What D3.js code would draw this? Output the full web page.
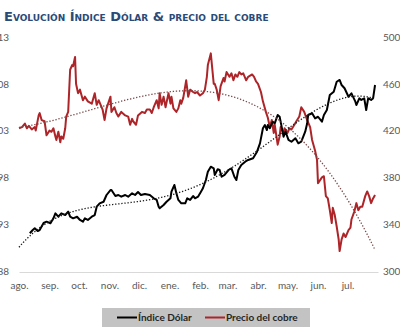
<!DOCTYPE html>
<html>
<head>
<meta charset="utf-8">
<script src="https://cdn.jsdelivr.net/npm/d3@7"></script>
<style>
  html, body { margin: 0; padding: 0; background: #ffffff; }
  svg { display: block; }
</style>
</head>
<body>
<svg id="chart" width="400" height="336"></svg>
<script>
// ---- data ----
const monthLabels = ["ago.", "sep.", "oct.", "nov.", "dic.", "ene.", "feb.", "mar.", "abr.", "may.", "jun.", "jul."];
const monthTickDates = ["2021-08-20", "2021-09-20", "2021-10-20", "2021-11-20", "2021-12-20", "2022-01-20",
                        "2022-02-20", "2022-03-20", "2022-04-20", "2022-05-20", "2022-06-20", "2022-07-20"];
const leftTicks = [88, 93, 98, 103, 108, 113];
const rightTicks = [300, 340, 380, 420, 460, 500];
const seriesNames = ["Índice Dólar", "Precio del cobre"];

// Índice Dólar
const dollarDates = [
  "2021-08-31","2021-09-03","2021-09-05","2021-09-08","2021-09-10","2021-09-14","2021-09-17","2021-09-21",
  "2021-09-24","2021-09-26","2021-09-29","2021-10-02","2021-10-06","2021-10-09","2021-10-11","2021-10-14",
  "2021-10-18","2021-10-21","2021-10-24","2021-10-26","2021-10-29","2021-11-02","2021-11-05","2021-11-07",
  "2021-11-10","2021-11-14","2021-11-17","2021-11-21","2021-11-22","2021-11-26","2021-11-29","2021-12-02",
  "2021-12-06","2021-12-09","2021-12-13","2021-12-16","2021-12-19","2021-12-22","2021-12-26","2021-12-31",
  "2022-01-04","2022-01-07","2022-01-09","2022-01-10","2022-01-14","2022-01-17","2022-01-21","2022-01-22",
  "2022-01-25","2022-01-27","2022-01-29","2022-02-01","2022-02-05","2022-02-07","2022-02-10","2022-02-13",
  "2022-02-15","2022-02-18","2022-02-21","2022-02-23","2022-02-26","2022-02-28","2022-03-03","2022-03-06",
  "2022-03-07","2022-03-10","2022-03-12","2022-03-14","2022-03-17","2022-03-21","2022-03-24","2022-03-27",
  "2022-03-29","2022-03-31","2022-04-03","2022-04-07","2022-04-10","2022-04-15","2022-04-19","2022-04-22",
  "2022-04-25","2022-04-27","2022-04-29","2022-04-30","2022-05-02","2022-05-05","2022-05-07","2022-05-10",
  "2022-05-12","2022-05-14","2022-05-16","2022-05-18","2022-05-21","2022-05-24","2022-05-28","2022-05-31",
  "2022-06-03","2022-06-07","2022-06-09","2022-06-10","2022-06-14","2022-06-17","2022-06-20","2022-06-24",
  "2022-06-26","2022-06-29","2022-07-02","2022-07-06","2022-07-09","2022-07-12","2022-07-14","2022-07-17",
  "2022-07-21","2022-07-24","2022-07-28","2022-07-29","2022-08-01","2022-08-03","2022-08-06","2022-08-08",
  "2022-08-10","2022-08-13","2022-08-15","2022-08-17"
];
const dollarValues = [
  92.03, 92.38, 92.56, 92.27, 92.38, 93.13, 93.27, 93.10,
  93.63, 94.16, 93.80, 94.16, 93.98, 94.34, 93.80, 93.63,
  93.80, 93.45, 93.27, 93.63, 93.45, 93.80, 93.98, 94.87,
  95.23, 95.40, 96.12, 96.65, 96.65, 96.01, 96.12, 95.94,
  96.12, 95.94, 96.30, 96.12, 96.44, 96.12, 96.23, 96.12,
  95.77, 95.59, 94.87, 94.70, 95.05, 95.40, 95.77, 96.47,
  97.19, 96.30, 95.59, 95.23, 95.23, 95.77, 95.59, 96.01,
  95.77, 95.94, 96.47, 96.84, 97.72, 98.61, 99.14, 98.97,
  98.26, 98.87, 98.79, 98.07, 98.26, 98.79, 98.97, 98.07,
  97.72, 98.79, 99.32, 99.68, 99.86, 100.04, 100.75, 101.64,
  103.25, 103.60, 103.06, 103.60, 103.25, 103.95, 103.78, 104.67,
  104.48, 103.42, 102.35, 102.88, 102.00, 101.81, 102.18, 101.64,
  101.81, 102.88, 103.78, 104.67, 104.85, 104.31, 104.48, 103.95,
  104.67, 105.20, 106.80, 107.16, 108.22, 108.41, 107.87, 107.52,
  106.62, 106.98, 106.09, 105.73, 106.45, 106.27, 106.45, 105.20,
  106.45, 106.27, 106.45, 107.87
];

// Precio del cobre
const copperDates = [
  "2021-08-20","2021-08-23","2021-08-26","2021-08-28","2021-08-30","2021-09-02","2021-09-05","2021-09-06",
  "2021-09-09","2021-09-10","2021-09-12","2021-09-15","2021-09-17","2021-09-20","2021-09-22","2021-09-24",
  "2021-09-26","2021-09-27","2021-09-29","2021-10-01","2021-10-02","2021-10-04","2021-10-06","2021-10-07",
  "2021-10-09","2021-10-11","2021-10-13","2021-10-14","2021-10-16","2021-10-17","2021-10-19","2021-10-21",
  "2021-10-24","2021-10-26","2021-10-29","2021-11-02","2021-11-05","2021-11-07","2021-11-09","2021-11-13",
  "2021-11-15","2021-11-17","2021-11-21","2021-11-22","2021-11-25","2021-11-27","2021-11-29","2021-12-02",
  "2021-12-06","2021-12-09","2021-12-11","2021-12-13","2021-12-14","2021-12-17","2021-12-19","2021-12-23",
  "2021-12-26","2021-12-28","2021-12-31","2022-01-02","2022-01-04","2022-01-07","2022-01-09","2022-01-10",
  "2022-01-12","2022-01-14","2022-01-16","2022-01-19","2022-01-21","2022-01-22","2022-01-24","2022-01-27",
  "2022-01-29","2022-01-31","2022-02-01","2022-02-03","2022-02-06","2022-02-08","2022-02-10","2022-02-13",
  "2022-02-15","2022-02-17","2022-02-20","2022-02-23","2022-02-25","2022-02-27","2022-02-28","2022-03-03",
  "2022-03-06","2022-03-07","2022-03-09","2022-03-11","2022-03-13","2022-03-16","2022-03-17","2022-03-19",
  "2022-03-22","2022-03-24","2022-03-26","2022-03-28","2022-03-30","2022-04-01","2022-04-03","2022-04-05",
  "2022-04-08","2022-04-10","2022-04-14","2022-04-16","2022-04-18","2022-04-20","2022-04-23","2022-04-25",
  "2022-04-28","2022-04-30","2022-05-02","2022-05-04","2022-05-06","2022-05-07","2022-05-10","2022-05-12",
  "2022-05-13","2022-05-16","2022-05-17","2022-05-20","2022-05-22","2022-05-24","2022-05-27","2022-05-29",
  "2022-06-01","2022-06-03","2022-06-06","2022-06-09","2022-06-12","2022-06-14","2022-06-17","2022-06-19",
  "2022-06-20","2022-06-24","2022-06-26","2022-06-28","2022-06-30","2022-07-02","2022-07-04","2022-07-05",
  "2022-07-07","2022-07-09","2022-07-11","2022-07-12","2022-07-14","2022-07-16","2022-07-18","2022-07-21",
  "2022-07-23","2022-07-24","2022-07-27","2022-07-29","2022-07-31","2022-08-02","2022-08-04","2022-08-07",
  "2022-08-09","2022-08-11","2022-08-13","2022-08-15","2022-08-17"
];
const copperValues = [
  422, 423, 426, 422, 424, 421, 423, 420,
  433, 435, 429, 428, 416, 420, 419, 422,
  415, 412, 419, 410, 415, 413, 422, 432,
  436, 472, 476, 475, 483, 460, 452, 455,
  446, 449, 445, 443, 452, 442, 446, 438,
  429, 439, 449, 436, 440, 435, 432, 436,
  433, 432, 425, 430, 428, 425, 433, 436,
  435, 438, 438, 435, 440, 446, 439, 452,
  442, 449, 440, 452, 443, 449, 439, 436,
  439, 446, 443, 448, 463, 449, 455, 453,
  452, 453, 450, 452, 455, 466, 476, 486,
  460, 460, 455, 446, 458, 465, 462, 470,
  466, 469, 463, 468, 466, 470, 468, 469,
  463, 466, 468, 466, 462, 460, 453, 445,
  436, 431, 423, 429, 418, 425, 408, 415,
  423, 418, 422, 418, 422, 421, 425, 428,
  432, 440, 436, 429, 423, 412, 403, 395,
  375, 380, 381, 364, 362, 352, 341, 354,
  348, 338, 327, 317, 327, 332, 329, 335,
  337, 344, 351, 358, 352, 355, 355, 364,
  368, 364, 358, 362, 365
];

// ---- helpers ----
const parse = d3.timeParse("%Y-%m-%d");
const DAY = 864e5;

// Least-squares polynomial trend line (like a spreadsheet "polynomial" trendline)
function polyTrend(dates, values, order, t0, t1) {
  const mid = (t0 + t1) / 2, half = (t1 - t0) / 2;
  const n = order + 1;
  const A = Array.from({ length: n }, () => new Array(n).fill(0));
  const b = new Array(n).fill(0);
  dates.forEach((d, i) => {
    const u = (d.getTime() - mid) / half;
    const p = [];
    let v = 1;
    for (let k = 0; k < n; k++) { p.push(v); v *= u; }
    for (let r = 0; r < n; r++) {
      b[r] += p[r] * values[i];
      for (let c = 0; c < n; c++) A[r][c] += p[r] * p[c];
    }
  });
  for (let i = 0; i < n; i++) {
    let m = i;
    for (let r = i + 1; r < n; r++) if (Math.abs(A[r][i]) > Math.abs(A[m][i])) m = r;
    [A[i], A[m]] = [A[m], A[i]];
    [b[i], b[m]] = [b[m], b[i]];
    for (let r = i + 1; r < n; r++) {
      const f = A[r][i] / A[i][i];
      for (let c = i; c < n; c++) A[r][c] -= f * A[i][c];
      b[r] -= f * b[i];
    }
  }
  const coef = new Array(n).fill(0);
  for (let i = n - 1; i >= 0; i--) {
    let s = b[i];
    for (let c = i + 1; c < n; c++) s -= A[i][c] * coef[c];
    coef[i] = s / A[i][i];
  }
  return t => {
    const u = (t - mid) / half;
    let s = 0, v = 1;
    for (let k = 0; k < n; k++) { s += coef[k] * v; v *= u; }
    return s;
  };
}

// ---- layout ----
const svg = d3.select("#chart");
const plot = { left: 19, right: 378, top: 37, bottom: 271 };

const x = d3.scaleTime()
  .domain([parse("2021-08-20"), parse("2022-08-20")])
  .range([plot.left, plot.right]);
const yL = d3.scaleLinear().domain([88, 113]).range([plot.bottom, plot.top]);
const yR = d3.scaleLinear().domain([300, 500]).range([plot.bottom, plot.top]);

const dollar = dollarDates.map((d, i) => ({ date: parse(d), value: dollarValues[i] }));
const copper = copperDates.map((d, i) => ({ date: parse(d), value: copperValues[i] }));

// ---- title ----
svg.append("text")
  .attr("x", 4)
  .attr("y", 21)
  .attr("font-family", "DejaVu Sans, Verdana, sans-serif")
  .attr("font-weight", "bold")
  .attr("font-size", 13)
  .style("font-variant", "small-caps")
  .attr("fill", "#2a4a78")
  .text("Evolución Índice Dólar & precio del cobre");

// ---- axes ----
const labelFont = "Lato, 'Open Sans', sans-serif";
const labelColor = "#595959";

const xAxis = svg.append("g")
  .attr("transform", `translate(0,${plot.bottom + 1})`)
  .call(d3.axisBottom(x)
    .tickValues(monthTickDates.map(parse))
    .tickFormat((d, i) => monthLabels[i])
    .tickSize(0)
    .tickPadding(10));
xAxis.select(".domain").attr("stroke", "#d9d9d9").attr("stroke-width", 1);
xAxis.selectAll("text")
  .attr("font-family", labelFont)
  .attr("font-size", 10)
  .attr("fill", labelColor);

const leftAxis = svg.append("g")
  .attr("transform", `translate(${plot.left},0)`)
  .call(d3.axisLeft(yL).tickValues(leftTicks).tickFormat(d3.format("d")).tickSize(0).tickPadding(10));
leftAxis.select(".domain").remove();
leftAxis.selectAll("text")
  .attr("font-family", labelFont)
  .attr("font-size", 10)
  .attr("fill", labelColor);

const rightAxis = svg.append("g")
  .attr("transform", `translate(${plot.right + 5},0)`)
  .call(d3.axisRight(yR).tickValues(rightTicks).tickFormat(d3.format("d")).tickSize(0).tickPadding(0));
rightAxis.select(".domain").remove();
rightAxis.selectAll("text")
  .attr("font-family", labelFont)
  .attr("font-size", 10)
  .attr("fill", labelColor);

// ---- trend lines ----
const tStart = x.domain()[0].getTime();
const tEnd = copper[copper.length - 1].date.getTime();
const trendDays = d3.range(tStart, tEnd + 1, DAY);

const dollarTrend = polyTrend(dollar.map(d => d.date), dollarValues, 4, tStart, tEnd);
const copperTrend = polyTrend(copper.map(d => d.date), copperValues, 3, tStart, tEnd);

const trendLine = (fn, y) => d3.line().x(t => x(new Date(t))).y(t => y(fn(t)))(trendDays);

// ---- series ----
const lineL = d3.line().x(d => x(d.date)).y(d => yL(d.value));
const lineR = d3.line().x(d => x(d.date)).y(d => yR(d.value));

svg.append("path")
  .attr("d", lineR(copper))
  .attr("fill", "none")
  .attr("stroke", "#ad2529")
  .attr("stroke-width", 2)
  .attr("stroke-linejoin", "round");

svg.append("path")
  .attr("d", lineL(dollar))
  .attr("fill", "none")
  .attr("stroke", "#000000")
  .attr("stroke-width", 2)
  .attr("stroke-linejoin", "round");

svg.append("path")
  .attr("d", trendLine(copperTrend, yR))
  .attr("fill", "none")
  .attr("stroke", "#7a4848")
  .attr("stroke-width", 1.3)
  .attr("stroke-dasharray", "1.3,1.8");

svg.append("path")
  .attr("d", trendLine(dollarTrend, yL))
  .attr("fill", "none")
  .attr("stroke", "#1a1a1a")
  .attr("stroke-width", 1.3)
  .attr("stroke-dasharray", "1.3,1.8");

// ---- legend ----
const legend = svg.append("g");
legend.append("rect")
  .attr("x", 102).attr("y", 308)
  .attr("width", 208).attr("height", 19)
  .attr("fill", "#c3c3c3");

const legendItems = [
  { name: seriesNames[0], color: "#000000", x: 117 },
  { name: seriesNames[1], color: "#ad2529", x: 205 }
];
legendItems.forEach(it => {
  legend.append("line")
    .attr("x1", it.x).attr("x2", it.x + 20)
    .attr("y1", 317.5).attr("y2", 317.5)
    .attr("stroke", it.color).attr("stroke-width", 2);
  legend.append("text")
    .attr("x", it.x + 21).attr("y", 321)
    .attr("font-family", labelFont)
    .attr("font-weight", "bold")
    .attr("font-size", 10)
    .attr("fill", "#262626")
    .text(it.name);
});
</script>
</body>
</html>
